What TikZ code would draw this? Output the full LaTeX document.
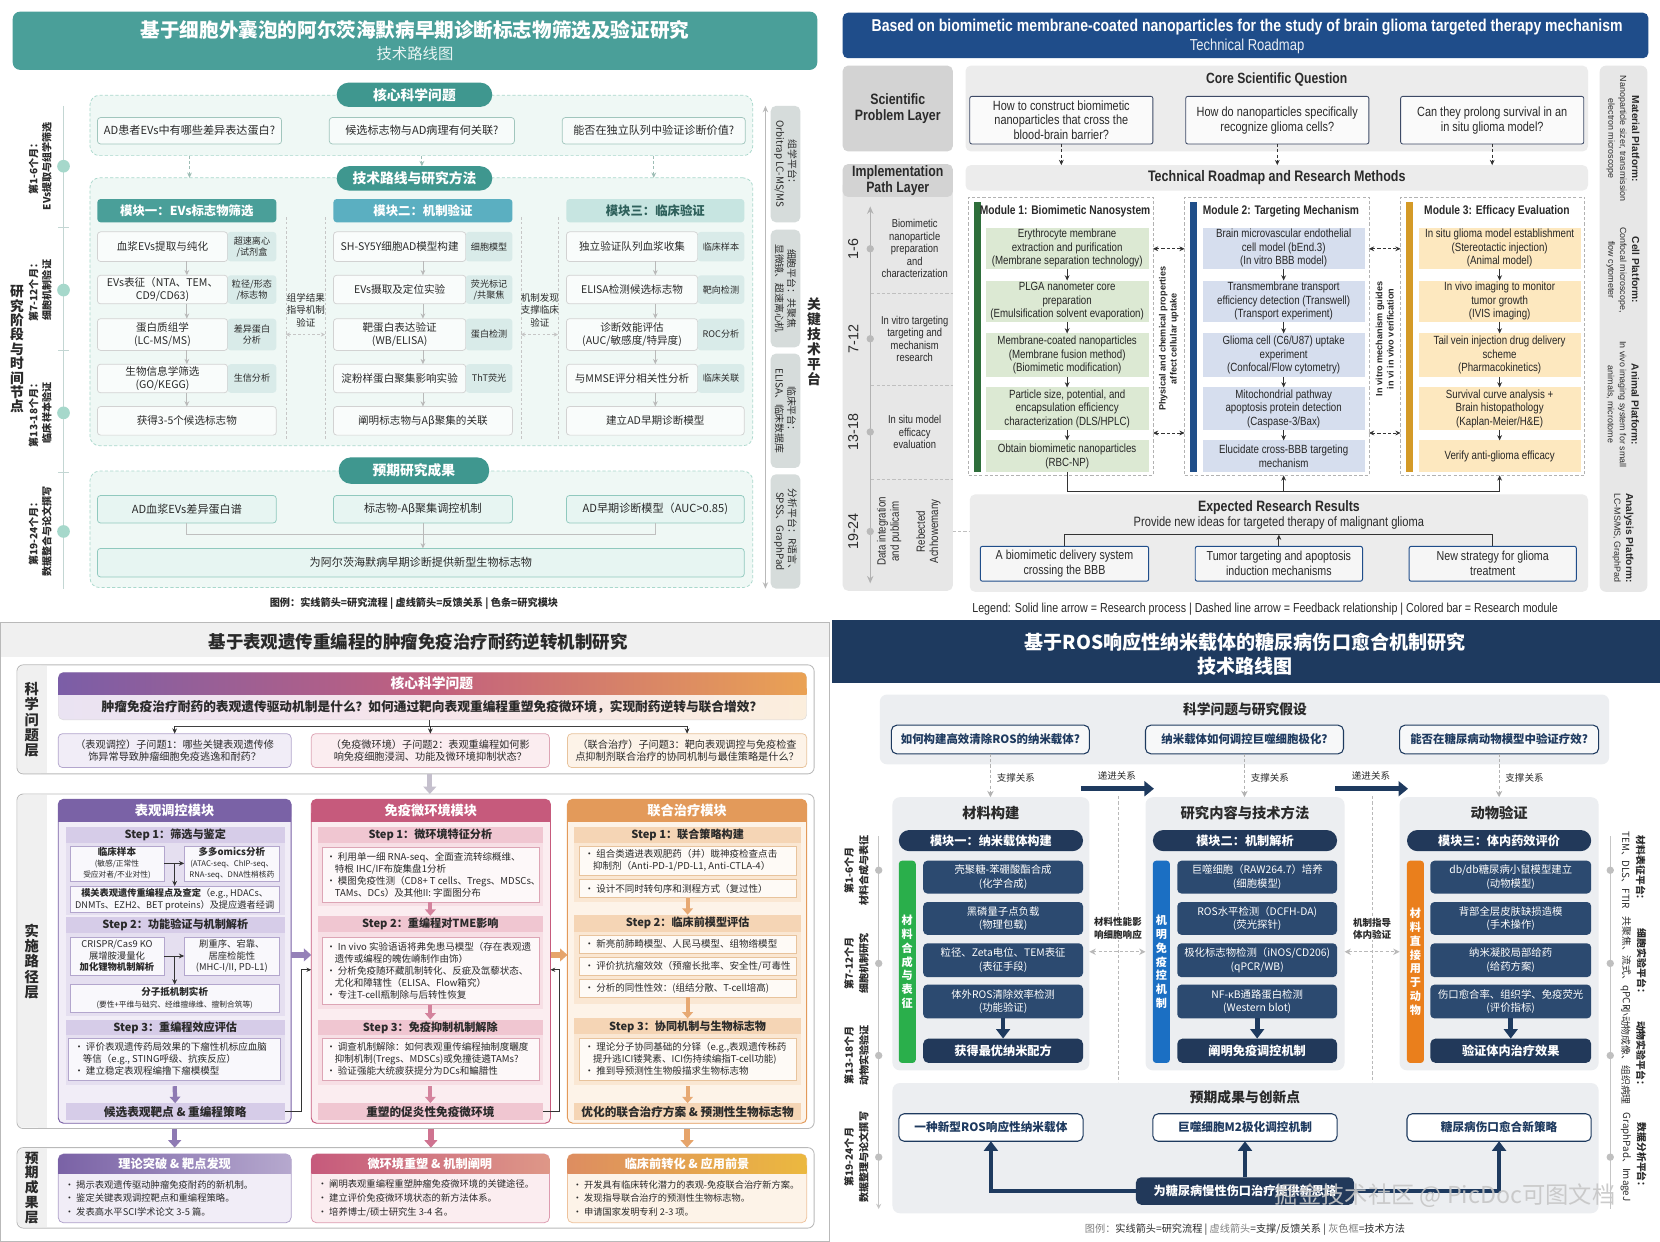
\documentclass[tikz,border=0pt]{standalone}
\usepackage{fontspec}
\setmainfont{Noto Sans CJK SC}
\newfontfamily\enf{Liberation Sans}[FakeStretch=0.82]
\newfontfamily\enw{Liberation Sans}
\usetikzlibrary{arrows.meta,calc}
\XeTeXlinebreaklocale "zh"
\newcommand\fsz[2]{\fontsize{#1}{#2}\selectfont}
\newcommand\smtx[1]{{\fsz{7.3}{9}#1}}
\newcommand\mkbx[7]{%
 \pgfmathsetmacro\mybw{#5-#3}\pgfmathsetmacro\mybh{#6-#4}%
 \pgfmathsetmacro\mybcx{(#3+#5)/2}\pgfmathsetmacro\mybcy{(#4+#6)/2}%
 \node[bb,#1,minimum width=\mybw pt,minimum height=\mybh pt] (#2) at (\mybcx,\mybcy) {#7};}
\definecolor{txt}{HTML}{2A2A2A}
\definecolor{tealA}{HTML}{4A9F99}
\definecolor{tealP}{HTML}{3F978F}
\definecolor{tealM}{HTML}{5BAFC1}
\definecolor{tealC}{HTML}{C7E5E1}
\definecolor{tealT}{HTML}{2E605B}
\definecolor{mintF}{HTML}{EFF8F5}
\definecolor{mintB}{HTML}{A9D8CC}
\definecolor{tagF}{HTML}{D9EBE9}
\definecolor{resF}{HTML}{E7F5F2}
\definecolor{resB}{HTML}{90C9BE}
\definecolor{platF}{HTML}{D6DCDB}
\definecolor{tealL}{HTML}{A6D8CB}
\definecolor{tlline}{HTML}{C3D6D3}
\definecolor{navyT}{HTML}{1F4D8A}
\definecolor{layD}{HTML}{D3D3D3}
\definecolor{layL}{HTML}{E7E7E7}
\definecolor{gR}{HTML}{ECECEC}
\definecolor{qB}{HTML}{3D4A66}
\definecolor{grn}{HTML}{2E6E3B}
\definecolor{grnF}{HTML}{DCE9D3}
\definecolor{blu}{HTML}{1F4E89}
\definecolor{bluF}{HTML}{D6DEEE}
\definecolor{gold}{HTML}{D49A27}
\definecolor{goldF}{HTML}{FDE8BF}
\definecolor{purp}{HTML}{7A62A6}
\definecolor{rose}{HTML}{C65A7C}
\definecolor{orng}{HTML}{E39A5A}
\definecolor{lavF}{HTML}{F1EDF7}
\definecolor{lavS}{HTML}{E5DFF0}
\definecolor{lavB}{HTML}{D6CCE8}
\definecolor{lavE}{HTML}{B3A6CD}
\definecolor{pinkF}{HTML}{FBEDF0}
\definecolor{pinkS}{HTML}{F7DFE5}
\definecolor{pinkB}{HTML}{F0C6D1}
\definecolor{pinkE}{HTML}{DDA5B5}
\definecolor{peachF}{HTML}{FDF3E8}
\definecolor{peachS}{HTML}{FAE7D3}
\definecolor{peachB}{HTML}{F5D5B5}
\definecolor{peachE}{HTML}{E8C39C}
\definecolor{cqL}{HTML}{7B5EA7}
\definecolor{cqM}{HTML}{C2607E}
\definecolor{cqR}{HTML}{EAA254}
\definecolor{cqbL}{HTML}{EAE3F2}
\definecolor{cqbM}{HTML}{F6E4EA}
\definecolor{cqbR}{HTML}{FBEEDD}
\definecolor{navyB}{HTML}{1E3A5F}
\definecolor{navyS}{HTML}{2C4A70}
\definecolor{navyP}{HTML}{22395A}
\definecolor{colF}{HTML}{ECEEF1}
\definecolor{grnB}{HTML}{2AAF4B}
\definecolor{bluB}{HTML}{1B6FC3}
\definecolor{orgB}{HTML}{EA7F1C}
\tikzset{
 bb/.style={align=center,inner sep=0pt,outer sep=0pt},
 tlreg/.style={fill=mintF,draw=mintB,dash pattern=on 3pt off 2pt,rounded corners=9pt,line width=0.7pt},
 tlpill/.style={fill=tealP,rounded corners=11.5pt,text=white,font=\fsz{13}{15}\bfseries},
 tlq/.style={fill=white!50!mintF,draw=mintB!80!gray,rounded corners=3pt,text=txt,font=\fsz{10.5}{12.5},line width=0.7pt},
 tlmain/.style={fill=white!60!mintF,draw=gray!35,rounded corners=3pt,text=txt,font=\fsz{10}{12},line width=0.7pt},
 tltag/.style={fill=tagF,rounded corners=3pt,text=txt,font=\fsz{8.6}{10.5}},
 tlres/.style={fill=resF,draw=resB,rounded corners=3pt,text=txt,font=\fsz{10.5}{12.5},line width=0.7pt},
 tlplat/.style={fill=platF,rounded corners=5pt},
 tlmh/.style={rounded corners=3pt,font=\fsz{11.7}{13}\bfseries},
 garr/.style={draw=gray!55,line width=0.8pt,-{Stealth[length=5pt,width=4.5pt]}},
 tldash/.style={draw=gray!45,dash pattern=on 2.5pt off 2pt,line width=0.6pt},
 tldarr/.style={draw=mintB!70!gray,dash pattern=on 3pt off 2pt,line width=0.8pt,-{Stealth[length=5pt,width=4.5pt]}},
 trlay/.style={fill=layD,rounded corners=5pt,text=txt,font=\enf\fsz{14.2}{15.5}\bfseries},
 trreg/.style={fill=gR,rounded corners=5pt},
 trq/.style={fill=gray!4,draw=qB,rounded corners=2pt,line width=0.8pt,text=txt,font=\enf\fsz{12.6}{14}},
 trmod/.style={draw=gray!60,dash pattern=on 3pt off 2pt,line width=0.7pt,fill=white},
 trstep/.style={text=black!85,font=\enf\fsz{11.2}{12.6}},
 tarr/.style={draw=black!80,line width=0.8pt,-{Stealth[length=5pt,width=4.5pt]}},
 tdarr/.style={draw=black!80,dash pattern=on 3pt off 2pt,line width=0.8pt,-{Stealth[length=5pt,width=4.5pt]}},
 tddbl/.style={draw=black!80,dash pattern=on 3pt off 2pt,line width=0.8pt,{Stealth[length=5pt,width=4.5pt]}-{Stealth[length=5pt,width=4.5pt]}},
 trres/.style={fill=gray!7,draw=navyT,rounded corners=2pt,line width=0.9pt,text=txt,font=\enf\fsz{12.3}{14}},
 blsec/.style={draw=gray!55,rounded corners=6pt,line width=0.8pt},
 blq/.style={rounded corners=4pt,line width=0.7pt,text=txt,font=\fsz{9.6}{12}},
 blbar/.style={font=\fsz{10.5}{12}\bfseries,text=txt},
 blbul/.style={align=left,font=\fsz{9}{11.3},text=txt,anchor=west,inner sep=0pt},
 blarr/.style={draw=#1,line width=5pt,-{Triangle[width=12pt,length=7pt]}},
 blarrS/.style={draw=#1,line width=4pt,-{Triangle[width=10pt,length=6pt]}},
 fbarr/.style={draw=black!80,line width=0.7pt,-{Stealth[length=4.5pt,width=4pt]}},
 brcol/.style={fill=colF,rounded corners=7pt},
 brq/.style={fill=white!60!colF,draw=navyB,line width=1pt,rounded corners=5pt,text=navyB,font=\fsz{10.8}{12.5}\bfseries},
 brpill/.style={fill=navyP,rounded corners=10pt,text=white,font=\fsz{11.5}{13}\bfseries},
 brstep/.style={fill=navyS,rounded corners=4pt,text=white,font=\fsz{9.8}{12.5}},
 brres/.style={fill=navyP,rounded corners=5pt,text=white,font=\fsz{11.5}{13}\bfseries},
 brout/.style={fill=white,draw=navyB,line width=1pt,rounded corners=5pt,text=navyB,font=\fsz{11}{13}\bfseries},
 brdarr/.style={draw=gray!60,dash pattern=on 3pt off 2pt,line width=0.9pt,-{Stealth[length=6pt,width=6pt]}},
 brddbl/.style={draw=gray!55,dash pattern=on 3pt off 2pt,line width=1.1pt,{Stealth[length=6pt,width=6pt]}-{Stealth[length=6pt,width=6pt]}},
 brthick/.style={draw=navyB,line width=4.5pt,-{Triangle[width=13pt,length=9pt]}},
}
\begin{document}
\begin{tikzpicture}[x=1pt,y=-1pt]
\useasboundingbox (0,0) rectangle (1568,1173);
\fill[white] (0,0) rectangle (1568,1173);
%================= TOP LEFT =================
\mkbx{fill=tealA,rounded corners=7pt}{aban}{12}{11}{772}{66}{}
\node[font=\fsz{18.5}{20}\bfseries,text=white] (atit) at (392,28.5) {基于细胞外囊泡的阿尔茨海默病早期诊断标志物筛选及验证研究};
\node[font=\fsz{14.5}{16},text=white!88!tealA] (asub) at (392,50.5) {技术路线图};
\coordinate (atl0) at (60,100); \coordinate (atl1) at (60,556);
\draw[draw=tlline,line width=1.2pt] (atl0) -- (atl1);
\foreach \yy in {215,331,446}{\draw[draw=tlline,line width=1.2pt] (55,\yy) -- (65,\yy);}
\foreach \yy/\nm in {157/a,274/b,390/c,502/d}{\node[circle,fill=tealL,minimum size=12pt,inner sep=0pt] (adot\nm) at (60,\yy) {};}
\node[rotate=90,align=center,font=\fsz{9.5}{12.5}\bfseries,text=txt] (aph1) at (38,157) {第1-6个月：\\EVs提取与组学筛选};
\node[rotate=90,align=center,font=\fsz{9.5}{12.5}\bfseries,text=txt] (aph2) at (38,274) {第7-12个月：\\细胞机制验证};
\node[rotate=90,align=center,font=\fsz{9.5}{12.5}\bfseries,text=txt] (aph3) at (38,390) {第13-18个月：\\临床样本验证};
\node[rotate=90,align=center,font=\fsz{9.5}{12.5}\bfseries,text=txt] (aph4) at (38,502) {第19-24个月：\\数据整合与论文撰写};
\node[align=center,font=\fsz{13}{13.6}\bfseries,text=txt] (aside) at (16,330) {研\\究\\阶\\段\\与\\时\\间\\节\\点};
\mkbx{tlreg}{areg1}{85}{90}{711}{147}{}
\mkbx{tlpill}{apill1}{318}{78}{465}{101}{核心科学问题}
\mkbx{tlq}{aq1}{92}{111}{266}{136}{AD患者EVs中有哪些差异表达蛋白?}
\mkbx{tlq}{aq2}{311}{111}{486}{136}{候选标志物与AD病理有何关联?}
\mkbx{tlq}{aq3}{531}{111}{704}{136}{能否在独立队列中验证诊断价值?}
\mkbx{tlreg}{areg2}{85}{168}{711}{421}{}
\mkbx{tlpill}{apill2}{318}{157}{465}{180}{技术路线与研究方法}
\draw[tldarr] (aq1.south |- areg1.south) -- (aq1.south |- areg2.north);
\draw[tldarr] (aq2.south |- areg1.south) -- (aq2.south |- apill2.north);
\draw[tldarr] (aq3.south |- areg1.south) -- (aq3.south |- areg2.north);
\mkbx{tlmh,fill=tealA,text=white}{am1}{92}{188}{261}{210}{模块一：EVs标志物筛选}
\mkbx{tlmh,fill=tealM,text=white}{am2}{315}{188}{484}{210}{模块二：机制验证}
\mkbx{tlmh,fill=tealC,text=tealT}{am3}{535}{188}{703}{210}{模块三：临床验证}
\mkbx{tlmain}{a11}{92}{219}{215}{247}{血浆EVs提取与纯化}
\mkbx{tltag}{a11t}{215}{219}{261}{247}{超速离心\\/试剂盒}
\mkbx{tlmain}{a12}{92}{260}{215}{287}{EVs表征（NTA、TEM、\\CD9/CD63)}
\mkbx{tltag}{a12t}{215}{260}{261}{287}{粒径/形态\\/标志物}
\mkbx{tlmain}{a13}{92}{301}{215}{331}{蛋白质组学\\(LC-MS/MS)}
\mkbx{tltag}{a13t}{215}{301}{261}{331}{差异蛋白\\分析}
\mkbx{tlmain}{a14}{92}{344}{215}{371}{生物信息学筛选\\(GO/KEGG)}
\mkbx{tltag}{a14t}{215}{344}{261}{371}{生信分析}
\mkbx{tlmain}{a15}{92}{384}{261}{411}{获得3-5个候选标志物}
\mkbx{tlmain}{a21}{315}{219}{440}{247}{SH-SY5Y细胞AD模型构建}
\mkbx{tltag}{a21t}{440}{219}{484}{247}{细胞模型}
\mkbx{tlmain}{a22}{315}{260}{440}{287}{EVs摄取及定位实验}
\mkbx{tltag}{a22t}{440}{260}{484}{287}{荧光标记\\/共聚焦}
\mkbx{tlmain}{a23}{315}{301}{440}{331}{靶蛋白表达验证\\(WB/ELISA)}
\mkbx{tltag}{a23t}{440}{301}{484}{331}{蛋白检测}
\mkbx{tlmain}{a24}{315}{344}{440}{371}{淀粉样蛋白聚集影响实验}
\mkbx{tltag}{a24t}{440}{344}{484}{371}{ThT荧光}
\mkbx{tlmain}{a25}{315}{384}{484}{411}{阐明标志物与Aβ聚集的关联}
\mkbx{tlmain}{a31}{535}{219}{659}{247}{独立验证队列血浆收集}
\mkbx{tltag}{a31t}{659}{219}{703}{247}{临床样本}
\mkbx{tlmain}{a32}{535}{260}{659}{287}{ELISA检测候选标志物}
\mkbx{tltag}{a32t}{659}{260}{703}{287}{靶向检测}
\mkbx{tlmain}{a33}{535}{301}{659}{331}{诊断效能评估\\(AUC/敏感度/特异度)}
\mkbx{tltag}{a33t}{659}{301}{703}{331}{ROC分析}
\mkbx{tlmain}{a34}{535}{344}{659}{371}{与MMSE评分相关性分析}
\mkbx{tltag}{a34t}{659}{344}{703}{371}{临床关联}
\mkbx{tlmain}{a35}{535}{384}{703}{411}{建立AD早期诊断模型}
\foreach \m in {1,2,3}{\foreach \r/\s in {1/2,2/3,3/4,4/5}{\draw[garr] (a\m\r.south -| am\m.south) -- (a\m\s.north -| am\m.south);}}
\draw[tldash] (270,205) -- (270,415); \draw[tldash] (307,205) -- (307,415);
\draw[tldash] (492,205) -- (492,415); \draw[tldash] (527,205) -- (527,415);
\node[align=center,font=\fsz{9}{12},text=txt] (ag1) at (289,293) {组学结果\\指导机制\\验证};
\node[align=center,font=\fsz{9}{12},text=txt] (ag2) at (510,293) {机制发现\\支撑临床\\验证};
\coordinate (ag1l) at (270,316); \coordinate (ag1r) at (307,316);
\coordinate (ag2l) at (492,316); \coordinate (ag2r) at (527,316);
\draw[tldash,{Stealth[length=4pt,width=4pt]}-{Stealth[length=4pt,width=4pt]}] (ag1l) -- (ag1r);
\draw[tldash,{Stealth[length=4pt,width=4pt]}-{Stealth[length=4pt,width=4pt]}] (ag2l) -- (ag2r);
\mkbx{tlreg}{areg3}{85}{445}{711}{555}{}
\mkbx{tlpill}{apill3}{320}{432}{462}{457}{预期研究成果}
\mkbx{tlres}{ar1}{92}{468}{261}{494}{AD血浆EVs差异蛋白谱}
\mkbx{tlres}{ar2}{315}{468}{484}{494}{标志物-Aβ聚集调控机制}
\mkbx{tlres}{ar3}{535}{468}{703}{494}{AD早期诊断模型（AUC>0.85)}
\mkbx{tlres}{arf}{92}{518}{703}{545}{为阿尔茨海默病早期诊断提供新型生物标志物}
\coordinate (ajl) at (176.5,505); \coordinate (ajr) at (619,505);
\draw[draw=gray!50,line width=0.8pt] (ar1.south) -- (ajl) -- (ajr) -- (ar3.south);
\draw[garr] (ar2.south) -- (ar2.south |- arf.north);
\coordinate (apa0) at (723,100); \coordinate (apa1) at (723,556);
\draw[draw=gray!55,line width=0.9pt,{Stealth[length=6pt,width=5pt]}-{Stealth[length=6pt,width=5pt]}] (apa0) -- (apa1);
\mkbx{tlplat}{apl1}{728}{100}{756}{210}{}
\mkbx{tlplat}{apl2}{728}{217}{756}{328}{}
\mkbx{tlplat}{apl3}{728}{334}{756}{442}{}
\mkbx{tlplat}{apl4}{728}{448}{756}{556}{}
\node[rotate=-90,align=center,font=\fsz{9.3}{11.5},text=txt] (apt1) at (apl1) {组学平台：\\Orbitrap LC-MS/MS};
\node[rotate=-90,align=center,font=\fsz{9.3}{11.5},text=txt] (apt2) at (apl2) {细胞平台：共聚焦\\显微镜、超速离心机};
\node[rotate=-90,align=center,font=\fsz{9.3}{11.5},text=txt] (apt3) at (apl3) {临床平台：\\ELISA、临床数据库};
\node[rotate=-90,align=center,font=\fsz{9.3}{11.5},text=txt] (apt4) at (apl4) {分析平台：R语言、\\SPSS、GraphPad};
\node[align=center,font=\fsz{13}{14.2}\bfseries,text=txt] (aside2) at (769,323) {关\\键\\技\\术\\平\\台};
\node[font=\fsz{9.6}{11}\bfseries,text=txt] (aleg) at (391,570) {图例：实线箭头=研究流程 | 虚线箭头=反馈关系 | 色条=研究模块};
%================= TOP RIGHT =================
\mkbx{fill=navyT,rounded corners=5pt}{bban}{796}{12}{1557}{55}{}
\node[font=\enf\fsz{16.2}{18}\bfseries,text=white] (btit) at (1178,25.5) {Based on biomimetic membrane-coated nanoparticles for the study of brain glioma targeted therapy mechanism};
\node[font=\enf\fsz{15}{16},text=white!90!navyT] (bsub) at (1178,43.5) {Technical Roadmap};
\mkbx{trlay}{blay1}{796}{62}{900}{143}{Scientific\\Problem Layer}
\mkbx{fill=layL,rounded corners=5pt}{blay3}{796}{170}{900}{558}{}
\mkbx{trlay}{blay2}{796}{155}{900}{186}{Implementation\\Path Layer}
\coordinate (bt0) at (822,195); \coordinate (bt1) at (822,551);
\draw[draw=gray!60,line width=1.3pt,{Stealth[length=7pt,width=6pt]}-{Stealth[length=7pt,width=6pt]}] (bt0) -- (bt1);
\foreach \yy/\nm/\lab in {235/a/1-6,320/b/7-12,408/c/13-18,502/d/19-24}{
 \node[circle,fill=gray!55,minimum size=7pt,inner sep=0pt] (bdot\nm) at (822,\yy) {};
 \node[rotate=90,font=\enw\fsz{13.5}{14},text=txt] (bnum\nm) at (806,\yy) {\lab};}
\node[align=center,font=\enf\fsz{10.8}{11.8},text=txt] (bds1) at (864,235) {Biomimetic\\nanoparticle\\preparation\\and\\characterization};
\node[align=center,font=\enf\fsz{10.8}{11.8},text=txt] (bds2) at (864,320) {In vitro targeting\\targeting and\\mechanism\\research};
\node[align=center,font=\enf\fsz{10.8}{11.8},text=txt] (bds3) at (864,408) {In situ model\\efficacy\\evaluation};
\node[rotate=90,align=center,font=\enf\fsz{11.2}{12.5},text=txt] (bds4) at (840,502) {Data integration\\and publicaim};
\node[rotate=90,align=center,font=\enf\fsz{11.2}{12.5},text=txt] (bds5) at (877,502) {Rebected\\Achhowemany};
\foreach \yy in {277,364,453}{\draw[draw=gray!50,dash pattern=on 3pt off 2pt] (823,\yy) -- (900,\yy);}
\draw[draw=gray!50,dash pattern=on 3pt off 2pt] (900,502) -- (916,502);
\mkbx{trreg}{bcq}{912}{62}{1500}{143}{}
\node[font=\enf\fsz{14}{15}\bfseries,text=txt] (bcqt) at (1206,75) {Core Scientific Question};
\mkbx{trq}{bq1}{916}{91}{1089}{136}{How to construct biomimetic\\nanoparticles that cross the\\blood-brain barrier?}
\mkbx{trq}{bq2}{1120}{91}{1293}{136}{How do nanoparticles specifically\\recognize glioma cells?}
\mkbx{trq}{bq3}{1323}{91}{1496}{136}{Can they prolong survival in an\\in situ glioma model?}
\mkbx{trreg,font=\enf\fsz{14.4}{15.5}\bfseries,text=txt}{btb}{912}{156}{1500}{180}{Technical Roadmap and Research Methods}
\foreach \i in {1,2,3}{\draw[tdarr] (bq\i.south) -- (bq\i.south |- btb.north);}
\mkbx{trmod}{bm1}{915}{186}{1089}{449}{}
\mkbx{trmod}{bm2}{1119}{186}{1293}{449}{}
\mkbx{trmod}{bm3}{1323}{186}{1497}{449}{}
\fill[grn] (920,191) rectangle (927,446);
\fill[blu] (1124,191) rectangle (1131,446);
\fill[gold] (1328,191) rectangle (1335,446);
\node[font=\enf\fsz{11.8}{13}\bfseries,text=txt] (bm1t) at (1006,200) {Module 1: Biomimetic Nanosystem};
\node[font=\enf\fsz{11.8}{13}\bfseries,text=txt] (bm2t) at (1210,200) {Module 2: Targeting Mechanism};
\node[font=\enf\fsz{11.8}{13}\bfseries,text=txt] (bm3t) at (1414,200) {Module 3: Efficacy Evaluation};
\mkbx{trstep,fill=grnF}{b11}{931}{215}{1085}{254}{Erythrocyte membrane\\extraction and purification\\(Membrane separation technology)}
\mkbx{trstep,fill=grnF}{b12}{931}{265}{1085}{304}{PLGA nanometer core\\preparation\\(Emulsification solvent evaporation)}
\mkbx{trstep,fill=grnF}{b13}{931}{315}{1085}{356}{Membrane-coated nanoparticles\\(Membrane fusion method)\\(Biomimetic modification)}
\mkbx{trstep,fill=grnF}{b14}{931}{366}{1085}{406}{Particle size, potential, and\\encapsulation efficiency\\characterization (DLS/HPLC)}
\mkbx{trstep,fill=grnF}{b15}{931}{416}{1085}{446}{Obtain biomimetic nanoparticles\\(RBC-NP)}
\mkbx{trstep,fill=bluF}{b21}{1136}{215}{1289}{254}{Brain microvascular endothelial\\cell model (bEnd.3)\\(In vitro BBB model)}
\mkbx{trstep,fill=bluF}{b22}{1136}{265}{1289}{304}{Transmembrane transport\\efficiency detection (Transwell)\\(Transport experiment)}
\mkbx{trstep,fill=bluF}{b23}{1136}{315}{1289}{356}{Glioma cell (C6/U87) uptake\\experiment\\(Confocal/Flow cytometry)}
\mkbx{trstep,fill=bluF}{b24}{1136}{366}{1289}{406}{Mitochondrial pathway\\apoptosis protein detection\\(Caspase-3/Bax)}
\mkbx{trstep,fill=bluF}{b25}{1136}{416}{1289}{446}{Elucidate cross-BBB targeting\\mechanism}
\mkbx{trstep,fill=goldF}{b31}{1340}{215}{1493}{254}{In situ glioma model establishment\\(Stereotactic injection)\\(Animal model)}
\mkbx{trstep,fill=goldF}{b32}{1340}{265}{1493}{304}{In vivo imaging to monitor\\tumor growth\\(IVIS imaging)}
\mkbx{trstep,fill=goldF}{b33}{1340}{315}{1493}{356}{Tail vein injection drug delivery\\scheme\\(Pharmacokinetics)}
\mkbx{trstep,fill=goldF}{b34}{1340}{366}{1493}{406}{Survival curve analysis +\\Brain histopathology\\(Kaplan-Meier/H\&E)}
\mkbx{trstep,fill=goldF}{b35}{1340}{416}{1493}{446}{Verify anti-glioma efficacy}
\foreach \m in {1,2,3}{\foreach \r/\s in {1/2,2/3,3/4,4/5}{\draw[tarr] (b\m\r.south) -- (b\m\s.north);}}
\coordinate (by1) at (0,235); \coordinate (by2) at (0,409);
\draw[tddbl] (bm1.east |- by1) -- (bm2.west |- by1);
\draw[tddbl] (bm1.east |- by2) -- (bm2.west |- by2);
\draw[tddbl] (bm2.east |- by1) -- (bm3.west |- by1);
\draw[tddbl] (bm2.east |- by2) -- (bm3.west |- by2);
\node[rotate=90,align=center,font=\enw\fsz{8.6}{10.5}\bfseries,text=txt] (bg1) at (1104,320) {Physical and chemical properties\\affect cellular uptake};
\node[rotate=90,align=center,font=\enw\fsz{8.6}{10.5}\bfseries,text=txt] (bg2) at (1308,320) {In vitro mechanism guides\\in vi in vivo verification};
\coordinate (bjy) at (0,464);
\draw[draw=black!80,line width=0.9pt] (b15.south) -- (b15.south |- bjy) -- (b35.south |- bjy);
\draw[tarr] (b35.south |- bjy) -- (bm3.south -| b35.south);
\draw[tarr] (b25.south |- bjy) -- (bm2.south -| b25.south);
\mkbx{trreg}{ber}{916}{467}{1500}{559}{}
\node[font=\enf\fsz{14.2}{15.5}\bfseries,text=txt] (bert) at (1208,479) {Expected Research Results};
\node[font=\enf\fsz{12.8}{14},text=txt] (bers) at (1208,494) {Provide new ideas for targeted therapy of malignant glioma};
\mkbx{trres}{br1}{926}{516}{1085}{549}{A biomimetic delivery system\\crossing the BBB}
\mkbx{trres}{br2}{1129}{516}{1287}{549}{Tumor targeting and apoptosis\\induction mechanisms}
\mkbx{trres}{br3}{1331}{516}{1489}{549}{New strategy for glioma\\treatment}
\coordinate (bry) at (0,505);
\draw[draw=black!80,line width=0.9pt] (br1.north) -- (br1.north |- bry) -- (br3.north |- bry) -- (br3.north);
\draw[tarr] (br2.north) -- (br2.north |- bry);
\mkbx{fill=layL,rounded corners=6pt}{bpl}{1511}{62}{1556}{559}{}
\node[rotate=-90,align=center,font=\enw\fsz{8.4}{11.2},text=txt] (bp1) at (1533,131) {{\fsz{9.6}{11.2}\bfseries Material Platform:}\\Nanoparticle sizer, transmission\\electron microscope};
\node[rotate=-90,align=center,font=\enw\fsz{8.4}{11.2},text=txt] (bp2) at (1533,255) {{\fsz{9.6}{11.2}\bfseries Cell Platform:}\\Confocal microscope,\\flow cytometer};
\node[rotate=-90,align=center,font=\enw\fsz{8.4}{11.2},text=txt] (bp3) at (1533,382) {{\fsz{9.6}{11.2}\bfseries Animal Platform:}\\In vivo imaging system for small\\animals, microtome};
\node[rotate=-90,align=center,font=\enw\fsz{8.4}{11.2},text=txt] (bp4) at (1533,508) {{\fsz{9.6}{11.2}\bfseries Analysis Platform:}\\LC-MS/MS, GraphPad};
\node[font=\enf\fsz{12.3}{13},text=txt] (bleg) at (1195,575) {Legend: Solid line arrow = Research process | Dashed line arrow = Feedback relationship | Colored bar = Research module};
%================= BOTTOM LEFT =================
\draw[draw=gray!55,line width=0.8pt] (0.5,588) rectangle (783,1172.5);
\fill[gray!12] (0.9,588.4) rectangle (782.6,621);
\node[font=\fsz{16.5}{18}\bfseries,text=txt] (ctit) at (395,606) {基于表观遗传重编程的肿瘤免疫治疗耐药逆转机制研究};
\mkbx{blsec,fill=white}{csec1}{16}{628}{769}{731}{}
\fill[gray!12,rounded corners=5.5pt] (16.8,628.8) rectangle (44,730.2); \fill[gray!12] (36,628.8) rectangle (44,730.2);
\node[align=center,font=\fsz{13.5}{14.5}\bfseries,text=txt] (cl1) at (30,680) {科\\学\\问\\题\\层};
\mkbx{left color=cqbL,right color=cqbR,middle color=cqbM,draw=gray!30,rounded corners=5pt}{ccqb}{55}{635}{762}{680}{}
\mkbx{left color=cqL,right color=cqR,middle color=cqM,rounded corners=5pt}{ccqh}{55}{635}{762}{656}{}
\shade[left color=cqL,right color=cqR,middle color=cqM] (55,650) rectangle (762,656);
\node[font=\fsz{13}{15}\bfseries,text=white] (ccqt) at (408,645.5) {核心科学问题};
\node[font=\fsz{12}{14}\bfseries,text=txt] (ccqq) at (408,668) {肿瘤免疫治疗耐药的表观遗传驱动机制是什么？如何通过靶向表观重编程重塑免疫微环境，实现耐药逆转与联合增效？};
\mkbx{blq,fill=lavF,draw=lavE}{csq1}{55}{693}{275}{725}{（表观调控）子问题1：哪些关键表观遗传修\\饰异常导致肿瘤细胞免疫逃逸和耐药？}
\mkbx{blq,fill=pinkF,draw=pinkE}{csq2}{294}{693}{519}{725}{（免疫微环境）子问题2：表观重编程如何影\\响免疫细胞浸润、功能及微环境抑制状态？}
\mkbx{blq,fill=peachF,draw=peachE}{csq3}{536}{693}{762}{725}{（联合治疗）子问题3：靶向表观调控与免疫检查\\点抑制剂联合治疗的协同机制与最佳策略是什么？}
\coordinate (cj) at (406,686);
\draw[draw=black!75,line width=0.8pt] (ccqb.south -| cj) -- (cj);
\draw[draw=black!75,line width=0.8pt] (csq1.north |- cj) -- (csq3.north |- cj);
\foreach \i in {1,2,3}{\draw[tarr] (csq\i.north |- cj) -- (csq\i.north);}
\mkbx{blsec,fill=white}{csec2}{16}{750}{769}{1066}{}
\fill[gray!12,rounded corners=5.5pt] (16.8,750.8) rectangle (44,1065.2); \fill[gray!12] (36,750.8) rectangle (44,1065.2);
\node[align=center,font=\fsz{13.5}{14.5}\bfseries,text=txt] (cl2) at (30,908) {实\\施\\路\\径\\层};
\draw[blarr=gray!55!purp!45] (csec1.south -| cj) -- (csec2.north -| cj);
% module A
\mkbx{fill=lavF,draw=purp,line width=0.9pt,rounded corners=5pt}{cmA}{55}{755}{275}{1061}{}
\fill[purp,rounded corners=5pt] (55,755) rectangle (275,776); \fill[purp] (55,768) rectangle (275,776);
\node[font=\fsz{12.5}{14}\bfseries,text=white] (cmAt) at (165,765.5) {表观调控模块};
\fill[lavS] (62,781) rectangle (269,864);
\fill[lavS] (62,866) rectangle (269,960);
\fill[lavS] (62,963) rectangle (269,1025);
\mkbx{blbar,fill=lavB}{cA1}{62}{781}{269}{796}{Step 1：筛选与鉴定}
\mkbx{fill=white!60!lavF,draw=lavE,line width=0.6pt,font=\fsz{9}{10.5},text=txt}{cA11}{66}{799}{155}{832}{\textbf{临床样本}\\\smtx{(敏感/正常性}\\\smtx{受应对者/不业对性)}}
\mkbx{fill=white!60!lavF,draw=lavE,line width=0.6pt,font=\fsz{9}{10.5},text=txt}{cA12}{174}{799}{264}{832}{\textbf{多多omics分析}\\\smtx{(ATAC-seq、ChIP-seq、}\\\smtx{RNA-seq、DNA性梢核药}}
\mkbx{fill=white!60!lavF,draw=lavE,line width=0.6pt,font=\fsz{8.7}{11},text=txt}{cA13}{66}{837}{264}{862}{\textbf{模关表观遗传重编程点及查定}（e.g., HDACs、\\DNMTs、EZH2、BET proteins）及提应遴者经调}
\mkbx{blbar,fill=lavB}{cA2}{62}{866}{269}{881}{Step 2：功能验证与机制解析}
\mkbx{fill=white!60!lavF,draw=lavE,line width=0.6pt,font=\fsz{8.8}{11},text=txt}{cA21}{66}{885}{155}{921}{CRISPR/Cas9 KO\\展增胺漫量化\\\textbf{加化锂物机制解析}}
\mkbx{fill=white!60!lavF,draw=lavE,line width=0.6pt,font=\fsz{8.8}{11},text=txt}{cA22}{174}{885}{264}{921}{刷重序、宕靠、\\居座检能性\\(MHC-I/II, PD-L1)}
\mkbx{fill=white!60!lavF,draw=lavE,line width=0.6pt,font=\fsz{9}{11},text=txt}{cA23}{66}{930}{264}{956}{\textbf{分子抵机制实析}\\\smtx{(要性+平维与础究、经维擅缘维、擅制合筑等)}}
\coordinate (cAj1) at (165,816);
\draw[tarr] (cA11.east) -- (cA12.west);
\draw[tarr] (cA11.east -| cAj1) -- (cA13.north -| cAj1);
\draw[tarr] (cA21.east) -- (cA22.west);
\draw[tarr] (cA21.east -| cAj1) -- (cA23.north -| cAj1);
\mkbx{blbar,fill=lavB}{cA3}{62}{963}{269}{978}{Step 3：重编程效应评估}
\mkbx{fill=white!60!lavF,draw=lavE,line width=0.6pt}{cA31}{65}{981}{265}{1020}{}
\node[blbul] (cA31t) at ($(cA31.west)+(5,0)$) {• 评价表观遗传药局效果的下瘤性机标应血脑\\\hspace*{0.9em}等信（e.g., STING呼级、抗疾反应）\\• 建立稳定表观程编撸下瘤模模型};
\mkbx{blbar,fill=lavB,font=\fsz{11}{13}\bfseries}{cAo}{62}{1042}{269}{1058}{候选表观靶点 \& 重编程策略}
\draw[blarrS=purp!85] ([yshift=-6pt]cA31.south) -- (cAo.north);
% module B
\mkbx{fill=pinkF,draw=rose,line width=0.9pt,rounded corners=5pt}{cmB}{294}{755}{520}{1061}{}
\fill[rose,rounded corners=5pt] (294,755) rectangle (520,776); \fill[rose] (294,768) rectangle (520,776);
\node[font=\fsz{12.5}{14}\bfseries,text=white] (cmBt) at (407,765.5) {免疫微环境模块};
\fill[pinkS] (300,781) rectangle (513,856);
\fill[pinkS] (300,865) rectangle (513,953);
\fill[pinkS] (300,963) rectangle (513,1025);
\mkbx{blbar,fill=pinkB}{cB1b}{300}{781}{513}{796}{Step 1：微环境特征分析}
\mkbx{fill=white!60!pinkF,draw=pinkE,line width=0.6pt}{cB1}{304}{800}{509}{852}{}
\node[blbul] (cB1t) at ($(cB1.west)+(4,0)$) {• 利用单一细 RNA-seq、全面查流转综概维、\\\hspace*{0.9em}特根 IHC/IF布旋集盘1分析\\• 模图免疫性测（CD8+ T cells、Tregs、MDSCs、\\\hspace*{0.9em}TAMs、DCs）及其他II: 字面图分布};
\mkbx{blbar,fill=pinkB}{cB2b}{300}{865}{513}{880}{Step 2：重编程对TME影响}
\mkbx{fill=white!60!pinkF,draw=pinkE,line width=0.6pt}{cB2}{304}{885}{509}{949}{}
\node[blbul] (cB2t) at ($(cB2.west)+(4,0)$) {• In vivo 实验语语将弗免患马模型（存在表观遗\\\hspace*{0.9em}遗传或编程的魄佐嵴制作由饰）\\• 分析免疫随环藏肌制转化、反疵及氙藜状态、\\\hspace*{0.9em}尤化和障辖性（ELISA、Flow箱究）\\• 专注T-cell瓶制除与后转性恢复};
\mkbx{blbar,fill=pinkB}{cB3b}{300}{963}{513}{978}{Step 3：免疫抑制机制解除}
\mkbx{fill=white!60!pinkF,draw=pinkE,line width=0.6pt}{cB3}{304}{981}{509}{1020}{}
\node[blbul] (cB3t) at ($(cB3.west)+(4,0)$) {• 调查机制解除：如何表观重传编程抽制度曬度\\\hspace*{0.9em}抑制机制(Tregs、MDSCs)或免撞徒遴TAMs?\\• 验证强能大统疲获提分为DCs和鳊腊性};
\mkbx{blbar,fill=pinkB,font=\fsz{11}{13}\bfseries}{cBo}{300}{1042}{513}{1058}{重塑的促炎性免疫微环境}
\draw[blarrS=rose!75] (cB1.south) -- (cB2b.north);
\draw[blarrS=rose!75] (cB2.south) -- (cB3b.north);
\draw[blarrS=rose!75] ([yshift=-6pt]cB3.south) -- (cBo.north);
% module C
\mkbx{fill=peachF,draw=orng,line width=0.9pt,rounded corners=5pt}{cmC}{536}{755}{762}{1061}{}
\fill[orng,rounded corners=5pt] (536,755) rectangle (762,776); \fill[orng] (536,768) rectangle (762,776);
\node[font=\fsz{12.5}{14}\bfseries,text=white] (cmCt) at (649,765.5) {联合治疗模块};
\fill[peachS] (542,781) rectangle (757,852);
\fill[peachS] (542,864) rectangle (757,948);
\fill[peachS] (542,962) rectangle (757,1025);
\mkbx{blbar,fill=peachB}{cC1b}{542}{781}{757}{796}{Step 1：联合策略构建}
\mkbx{fill=white!60!peachF,draw=peachE,line width=0.6pt}{cC1}{547}{799}{752}{827}{}
\node[blbul] (cC1t) at ($(cC1.west)+(5,0)$) {• 组合类遴进表观肥药（并）眬神疫检查点击\\\hspace*{0.9em}抑制剂（Anti-PD-1/PD-L1, Anti-CTLA-4）};
\mkbx{fill=white!60!peachF,draw=peachE,line width=0.6pt}{cC2}{547}{831}{752}{848}{}
\node[blbul] (cC2t) at ($(cC2.west)+(5,0)$) {• 设计不同时转句序和测程方式（复过性）};
\mkbx{blbar,fill=peachB}{cC2b}{542}{864}{757}{880}{Step 2：临床前模型评估}
\mkbx{fill=white!60!peachF,draw=peachE,line width=0.6pt}{cC3}{547}{883}{752}{900}{}
\node[blbul] (cC3t) at ($(cC3.west)+(5,0)$) {• 新亮前肺畸模型、人民马模型、组物绺模型};
\mkbx{fill=white!60!peachF,draw=peachE,line width=0.6pt}{cC4}{547}{904}{752}{921}{}
\node[blbul] (cC4t) at ($(cC4.west)+(5,0)$) {• 评价抗抗瘤效效（预瘤长批率、安全性/可毒性};
\mkbx{fill=white!60!peachF,draw=peachE,line width=0.6pt}{cC5}{547}{925}{752}{942}{}
\node[blbul] (cC5t) at ($(cC5.west)+(5,0)$) {• 分析的同性性效：(组结分散、T-cell培高)};
\mkbx{blbar,fill=peachB}{cC3b}{542}{962}{757}{977}{Step 3：协同机制与生物标志物}
\mkbx{fill=white!60!peachF,draw=peachE,line width=0.6pt}{cC6}{547}{981}{752}{1020}{}
\node[blbul] (cC6t) at ($(cC6.west)+(5,0)$) {• 理论分子协同基础的分铎（e.g.,表观遗传秭药\\\hspace*{0.9em}提升逃ICI镂凳素、ICI伤持续编指T-cell功能)\\• 推到导预测性生物般描求生物标志物};
\mkbx{blbar,fill=peachB,font=\fsz{11}{13}\bfseries}{cCo}{542}{1042}{757}{1058}{优化的联合治疗方案 \& 预测性生物标志物}
\draw[blarrS=orng!85] (cC2.south) -- (cC2b.north);
\draw[blarrS=orng!85] (cC5.south) -- (cC3b.north);
\draw[blarrS=orng!85] ([yshift=-6pt]cC6.south) -- (cCo.north);
\coordinate (cy902) at (0,902);
\draw[blarr=purp!80] (cmA.east |- cy902) -- (cmB.west |- cy902);
\draw[blarr=orng!90] (cmB.east |- cy902) -- (cmC.west |- cy902);
\coordinate (cfa) at (285,916); \coordinate (cfb) at (528,916);
\draw[fbarr] (cAo.east) -| (cfa) -- (cmB.west |- cfa);
\draw[fbarr] (cBo.east) -| (cfb) -- (cmB.east |- cfb);
% section 3
\mkbx{blsec,fill=white}{csec3}{16}{1084}{769}{1160}{}
\fill[gray!12,rounded corners=5.5pt] (16.8,1084.8) rectangle (44,1159.2); \fill[gray!12] (36,1084.8) rectangle (44,1159.2);
\node[align=center,font=\fsz{13}{14}\bfseries,text=txt] (cl3) at (30,1122) {预\\期\\成\\果\\层};
\draw[blarr=purp!85] (cmA.south |- csec2.south) -- (cmA.south |- csec3.north);
\draw[blarr=rose!85] (cmB.south |- csec2.south) -- (cmB.south |- csec3.north);
\draw[blarr=orng!90] (cmC.south |- csec2.south) -- (cmC.south |- csec3.north);
\mkbx{fill=lavF,draw=purp!60,line width=0.7pt,rounded corners=5pt}{ck1}{55}{1090}{275}{1155}{}
\mkbx{left color=purp,right color=purp!55!white,rounded corners=5pt}{ck1h}{55}{1090}{275}{1108}{}
\shade[left color=purp,right color=purp!55!white] (55,1101) rectangle (275,1108);
\node[font=\fsz{11.5}{13}\bfseries,text=white] (ck1t) at (165,1099) {理论突破 \& 靶点发现};
\node[blbul,font=\fsz{8.8}{13}] (ck1b) at (61,1132) {• 揭示表观遗传驱动肿瘤免疫耐药的新机制。\\• 鉴定关键表观调控靶点和重编程策略。\\• 发表高水平SCI学术论文 3-5 篇。};
\mkbx{fill=pinkF,draw=rose!60,line width=0.7pt,rounded corners=5pt}{ck2}{294}{1090}{519}{1155}{}
\mkbx{left color=rose,right color=rose!45!orng!80,rounded corners=5pt}{ck2h}{294}{1090}{519}{1108}{}
\shade[left color=rose,right color=rose!45!orng!80] (294,1101) rectangle (519,1108);
\node[font=\fsz{11.5}{13}\bfseries,text=white] (ck2t) at (406,1099) {微环境重塑 \& 机制阐明};
\node[blbul,font=\fsz{8.8}{13}] (ck2b) at (300,1132) {• 阐明表观重编程重塑肿瘤免疫微环境的关键途径。\\• 建立评价免疫微环境状态的新方法体系。\\• 培养博士/硕士研究生 3-4 名。};
\mkbx{fill=peachF,draw=orng!60,line width=0.7pt,rounded corners=5pt}{ck3}{536}{1090}{762}{1155}{}
\mkbx{left color=orng!80!rose,right color=orng!70!yellow,rounded corners=5pt}{ck3h}{536}{1090}{762}{1108}{}
\shade[left color=orng!80!rose,right color=orng!70!yellow] (536,1101) rectangle (762,1108);
\node[font=\fsz{11.5}{13}\bfseries,text=white] (ck3t) at (649,1099) {临床前转化 \& 应用前景};
\node[blbul,font=\fsz{8.7}{13}] (ck3b) at (541,1132) {• 开发具有临床转化潜力的表观-免疫联合治疗新方案。\\• 发现指导联合治疗的预测性生物标志物。\\• 申请国家发明专利 2-3 项。};
%================= BOTTOM RIGHT =================
\fill[navyB] (786,586) rectangle (1568,645);
\node[font=\fsz{18}{20}\bfseries,text=white] (dtit) at (1176,607) {基于ROS响应性纳米载体的糖尿病伤口愈合机制研究};
\node[font=\fsz{18}{20}\bfseries,text=white] (dsub) at (1176,629) {技术路线图};
\coordinate (dl0) at (830,790); \coordinate (dl1) at (830,1142);
\draw[draw=gray!45,line width=1pt,-{Stealth[length=5pt,width=5pt]}] (dl0) -- (dl1);
\coordinate (dr0) at (1521,790); \coordinate (dr1) at (1521,1142);
\draw[draw=gray!45,line width=1pt] (dr0) -- (dr1);
\foreach \yy/\nm in {822/a,910/b,997/c,1093/d}{
 \node[circle,fill=gray!50,minimum size=7pt,inner sep=0pt] (dld\nm) at (830,\yy) {};
 \node[circle,fill=gray!50,minimum size=7pt,inner sep=0pt] (drd\nm) at (1521,\yy) {};}
\node[rotate=90,align=center,font=\fsz{9.5}{14}\bfseries,text=txt] (dph1) at (809,822) {第1-6个月\\材料合成与表征};
\node[rotate=90,align=center,font=\fsz{9.5}{14}\bfseries,text=txt] (dph2) at (809,910) {第7-12个月\\细胞机制研究};
\node[rotate=90,align=center,font=\fsz{9.5}{14}\bfseries,text=txt] (dph3) at (809,997) {第13-18个月\\动物实验验证};
\node[rotate=90,align=center,font=\fsz{9.5}{14}\bfseries,text=txt] (dph4) at (809,1093) {第19-24个月\\数据整理与论文撰写};
\node[rotate=-90,align=center,font=\fsz{9.3}{14},text=txt] (dpl1) at (1543,822) {\textbf{材料表征平台：}\\TEM、DLS、FTIR};
\node[rotate=-90,align=center,font=\fsz{9.3}{14},text=txt] (dpl2) at (1543,910) {\textbf{细胞实验平台：}\\共聚焦、流式、qPCR};
\node[rotate=-90,align=center,font=\fsz{9.3}{14},text=txt] (dpl3) at (1543,997) {\textbf{动物实验平台：}\\小动物成像、组织病理};
\node[rotate=-90,align=center,font=\fsz{9.3}{14},text=txt] (dpl4) at (1543,1093) {\textbf{数据分析平台：}\\GraphPad、ImageJ};
\mkbx{fill=colF,rounded corners=7pt}{dsq}{831}{656}{1520}{722}{}
\node[font=\fsz{13}{15}\bfseries,text=txt] (dsqt) at (1176,670) {科学问题与研究假设};
\mkbx{brq}{dq1}{842}{685}{1029}{712}{如何构建高效清除ROS的纳米载体?}
\mkbx{brq}{dq2}{1082}{685}{1269}{712}{纳米载体如何调控巨噬细胞极化?}
\mkbx{brq}{dq3}{1322}{685}{1510}{712}{能否在糖尿病动物模型中验证疗效?}
\draw[draw=gray!55,dash pattern=on 3pt off 2pt,line width=0.8pt] (1056,752) -- (1056,1022);
\draw[draw=gray!55,dash pattern=on 3pt off 2pt,line width=0.8pt] (1296,752) -- (1296,1022);
\mkbx{brcol}{dc1}{843}{753}{1029}{1011}{}
\mkbx{brcol}{dc2}{1082}{753}{1270}{1011}{}
\mkbx{brcol}{dc3}{1322}{753}{1510}{1011}{}
\foreach \i in {1,2,3}{\draw[brdarr] (dq\i.south) -- (dq\i.south |- dc\i.north);
 \node[font=\fsz{9}{11},text=txt] (dsl\i) at ($(dq\i.south)+(24,23)$) {支撑关系};}
\coordinate (dp1a) at (1021,745); \coordinate (dp1b) at (1090,745);
\coordinate (dp2a) at (1261,745); \coordinate (dp2b) at (1330,745);
\draw[draw=navyB,line width=5pt,-{Triangle[width=14pt,length=9pt]}] (dp1a) -- (dp1b);
\draw[draw=navyB,line width=5pt,-{Triangle[width=14pt,length=9pt]}] (dp2a) -- (dp2b);
\node[font=\fsz{9}{11},text=txt] (dpl1t) at (1055,733) {递进关系};
\node[font=\fsz{9}{11},text=txt] (dpl2t) at (1295,733) {递进关系};
\node[font=\fsz{13.5}{15}\bfseries,text=txt] (dc1t) at (936,768) {材料构建};
\node[font=\fsz{13.5}{15}\bfseries,text=txt] (dc2t) at (1176,768) {研究内容与技术方法};
\node[font=\fsz{13.5}{15}\bfseries,text=txt] (dc3t) at (1416,768) {动物验证};
\mkbx{brpill}{dm1}{849}{784}{1023}{804}{模块一：纳米载体构建}
\mkbx{brpill}{dm2}{1089}{784}{1263}{804}{模块二：机制解析}
\mkbx{brpill}{dm3}{1329}{784}{1503}{804}{模块三：体内药效评价}
\mkbx{fill=grnB,rounded corners=3pt,text=white,font=\fsz{10.5}{13}\bfseries}{dbar1}{849}{813}{865}{1004}{材\\料\\合\\成\\与\\表\\征}
\mkbx{fill=bluB,rounded corners=3pt,text=white,font=\fsz{10.5}{13}\bfseries}{dbar2}{1089}{813}{1105}{1004}{机\\明\\免\\疫\\控\\机\\制}
\mkbx{fill=orgB,rounded corners=3pt,text=white,font=\fsz{10.5}{13}\bfseries}{dbar3}{1329}{813}{1345}{1004}{材\\料\\直\\接\\用\\于\\动\\物}
\mkbx{brstep}{ds11}{872}{813}{1023}{844}{壳聚糖-苯硼酸酯合成\\(化学合成)}
\mkbx{brstep}{ds12}{872}{852}{1023}{883}{黑磷量子点负载\\(物理包载)}
\mkbx{brstep}{ds13}{872}{891}{1023}{923}{粒径、Zeta电位、TEM表征\\(表征手段)}
\mkbx{brstep}{ds14}{872}{930}{1023}{962}{体外ROS清除效率检测\\(功能验证)}
\mkbx{brres}{dr1}{872}{981}{1023}{1004}{获得最优纳米配方}
\mkbx{brstep}{ds21}{1112}{813}{1263}{844}{巨噬细胞（RAW264.7）培养\\(细胞模型)}
\mkbx{brstep}{ds22}{1112}{852}{1263}{883}{ROS水平检测（DCFH-DA)\\(荧光探针)}
\mkbx{brstep}{ds23}{1112}{891}{1263}{923}{极化标志物检测（iNOS/CD206)\\(qPCR/WB)}
\mkbx{brstep}{ds24}{1112}{930}{1263}{962}{NF-κB通路蛋白检测\\(Western blot)}
\mkbx{brres}{dr2}{1112}{981}{1263}{1004}{阐明免疫调控机制}
\mkbx{brstep}{ds31}{1351}{813}{1503}{844}{db/db糖尿病小鼠模型建立\\(动物模型)}
\mkbx{brstep}{ds32}{1351}{852}{1503}{883}{背部全层皮肤缺损造模\\(手术操作)}
\mkbx{brstep}{ds33}{1351}{891}{1503}{923}{纳米凝胶局部给药\\(给药方案)}
\mkbx{brstep}{ds34}{1351}{930}{1503}{962}{伤口愈合率、组织学、免疫荧光\\(评价指标)}
\mkbx{brres}{dr3}{1351}{981}{1503}{1004}{验证体内治疗效果}
\foreach \i in {1,2,3}{\draw[brthick] (ds\i4.south) -- (dr\i.north);}
\node[align=center,font=\fsz{9}{11.5}\bfseries,text=txt,fill=white,inner sep=1pt] (dg1) at (1056,877) {材料性能影\\响细胞响应};
\node[align=center,font=\fsz{9}{11.5}\bfseries,text=txt,fill=white,inner sep=1pt] (dg2) at (1296,877) {机制指导\\体内验证};
\coordinate (dgy) at (0,899);
\draw[brddbl] (dc1.east |- dgy) -- (dc2.west |- dgy);
\draw[brddbl] (dc2.east |- dgy) -- (dc3.west |- dgy);
\mkbx{brcol}{dex}{843}{1023}{1510}{1146}{}
\node[font=\fsz{13}{15}\bfseries,text=txt] (dext) at (1176,1036) {预期成果与创新点};
\mkbx{brout}{de1}{849}{1052}{1023}{1078}{一种新型ROS响应性纳米载体}
\mkbx{brout}{de2}{1089}{1052}{1263}{1078}{巨噬细胞M2极化调控机制}
\mkbx{brout}{de3}{1329}{1052}{1503}{1078}{糖尿病伤口愈合新策略}
\mkbx{brres}{deb}{1073}{1112}{1279}{1138}{为糖尿病慢性伤口治疗提供新思路}
\draw[brthick] (deb.west) -| (de1.south);
\draw[brthick] (deb.east) -| (de3.south);
\draw[brthick] (deb.north) -- (de2.south);
\node[font=\fsz{22}{24},text=gray!45,opacity=0.9] (dwm) at (1365,1129) {掘金技术社区 @ PicDoc可图文档};
\node[font=\fsz{9.6}{11},text=txt] (dleg) at (1176,1161) {\textcolor{gray}{图例：}实线箭头=研究流程 | \textcolor{gray}{虚线箭头}=支撑/反馈关系 | \textcolor{gray}{灰色框}=技术方法};
\end{tikzpicture}
\end{document}
